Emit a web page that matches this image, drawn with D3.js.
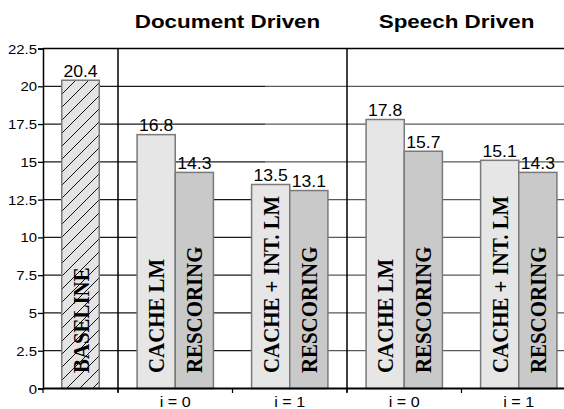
<!DOCTYPE html>
<html><head><meta charset="utf-8">
<script src="https://cdn.jsdelivr.net/npm/d3@7"></script>
<style>body{margin:0;background:#fff}svg{display:block}</style>
</head><body><svg id="chart" width="564" height="409"></svg>
<script>
// ---- data ----
const groupTitles = ["Document Driven", "Speech Driven"];
const categoryIds = ["doc0", "doc1", "sp0", "sp1"];
const categoryLabels = ["i = 0", "i = 1", "i = 0", "i = 1"];
const categoryGroup = [0, 0, 1, 1];
const baselineName = "BASELINE";
const baselineValue = 20.4;
const cacheValues = [16.8, 13.5, 17.8, 15.1];
const rescoringValues = [14.3, 13.1, 15.7, 14.3];
const cacheLabels = ["CACHE LM", "CACHE + INT. LM", "CACHE LM", "CACHE + INT. LM"];
const rescoringLabel = "RESCORING";
const yTicks = [0, 2.5, 5, 7.5, 10, 12.5, 15, 17.5, 20, 22.5];
const yTickLabels = ["0", "2.5", "5", "7.5", "10", "12.5", "15", "17.5", "20", "22.5"];

// ---- layout ----
const svg = d3.select("#chart");
const X0 = 43, XSEP = 118, XEND = 576, YB = 388.5, YT = 48.5;
const y = d3.scaleLinear().domain([0, 22.5]).range([YB, YT]);
const xBase = d3.scaleBand().domain([baselineName]).range([X0, XSEP]).paddingInner(0).paddingOuter(0.5);
const xCat = d3.scaleBand().domain(categoryIds).range([XSEP, XEND]).paddingInner(0).paddingOuter(0);
const xSub = d3.scaleBand().domain(["cache", "rescoring"]).range([0, xCat.bandwidth()]).paddingInner(0).paddingOuter(0.5);

const defs = svg.append("defs");
const pat = defs.append("pattern").attr("id", "hatch").attr("patternUnits", "userSpaceOnUse")
  .attr("width", 13).attr("height", 13);
pat.append("rect").attr("width", 13).attr("height", 13).attr("fill", "#e4e4e4");
pat.append("path").attr("d", "M0,13 L13,0 M-3,3 L3,-3 M10,16 L16,10")
  .attr("stroke", "#111").attr("stroke-width", 1);

// gridlines (dark on the left part, grey further right)
const gridVals = yTicks.filter(v => v > 0 && v < 22.5);
const gridSplit = 265;
svg.append("g").selectAll("line").data(gridVals).join("line")
  .attr("x1", X0).attr("x2", gridSplit).attr("y1", d => y(d)).attr("y2", d => y(d))
  .attr("stroke", "#1a1a1a").attr("stroke-width", 1.3);
svg.append("g").selectAll("line").data(gridVals).join("line")
  .attr("x1", gridSplit).attr("x2", 564).attr("y1", d => y(d)).attr("y2", d => y(d))
  .attr("stroke", "#5a5a5a").attr("stroke-width", 1.3);
// top border
svg.append("line").attr("x1", X0).attr("x2", 564).attr("y1", y(22.5)).attr("y2", y(22.5))
  .attr("stroke", "#000").attr("stroke-width", 1.6);

// vertical separators
[XSEP, xCat("doc1") + xCat.bandwidth()].forEach(xx => {
  svg.append("line").attr("x1", xx).attr("x2", xx).attr("y1", y(22.5)).attr("y2", YB + 4)
    .attr("stroke", "#000").attr("stroke-width", 1.5);
});

// y axis
const yAxis = d3.axisLeft(y).tickValues(yTicks).tickFormat((d, i) => yTickLabels[i])
  .tickSize(5).tickPadding(2);
const gy = svg.append("g").attr("transform", `translate(${X0},0)`).call(yAxis);
gy.select(".domain").attr("stroke", "#000").attr("stroke-width", 1.5);
gy.selectAll(".tick line").attr("stroke", "#000").attr("stroke-width", 1.3);
gy.selectAll(".tick text").each(function () {
  const t = d3.select(this);
  t.attr("font-family", "Liberation Sans, Arial, sans-serif").attr("font-size", 13)
   .attr("fill", "#000").attr("text-anchor", "end").attr("dy", null)
   .attr("x", null).attr("y", null)
   .attr("transform", "translate(-6,4.6) scale(1.15,1)");
});

// bars
const bars = svg.append("g");
bars.append("rect").attr("x", xBase(baselineName)).attr("width", xBase.bandwidth())
  .attr("y", y(baselineValue)).attr("height", y(0) - y(baselineValue))
  .attr("fill", "url(#hatch)").attr("stroke", "#7a7a7a").attr("stroke-width", 1.5);

const catData = categoryIds.map((id, i) => ({ id, i, cache: cacheValues[i], resc: rescoringValues[i] }));
const sub = [];
catData.forEach(d => {
  sub.push({ x: xCat(d.id) + xSub("cache"), v: d.cache, fill: "#e6e6e6", label: cacheLabels[d.i] });
  sub.push({ x: xCat(d.id) + xSub("rescoring"), v: d.resc, fill: "#c9c9c9", label: rescoringLabel });
});
bars.selectAll(".b").data(sub).join("rect").attr("class", "b")
  .attr("x", d => d.x).attr("width", xSub.bandwidth())
  .attr("y", d => y(d.v)).attr("height", d => y(0) - y(d.v))
  .attr("fill", d => d.fill).attr("stroke", "#7a7a7a").attr("stroke-width", 1.5);

// x axis line + ticks
svg.append("line").attr("x1", X0).attr("x2", 564).attr("y1", YB).attr("y2", YB)
  .attr("stroke", "#000").attr("stroke-width", 2.2);
const tickXs = [X0, XSEP].concat(categoryIds.map(id => xCat(id) + xCat.bandwidth()));
svg.append("g").selectAll("line").data(tickXs).join("line")
  .attr("x1", d => d).attr("x2", d => d).attr("y1", YB).attr("y2", YB + 4.5)
  .attr("stroke", "#000").attr("stroke-width", 1.2);

// value labels
const allVals = [{ cx: xBase(baselineName) + xBase.bandwidth() / 2, v: baselineValue }]
  .concat(sub.map(d => ({ cx: d.x + xSub.bandwidth() / 2, v: d.v })));
svg.append("g").selectAll("text").data(allVals).join("text")
  .attr("transform", d => `translate(${d.cx},${y(d.v) - 3.5}) scale(1.1,1)`)
  .attr("text-anchor", "middle").attr("font-family", "Liberation Sans, Arial, sans-serif")
  .attr("font-size", 16).attr("fill", "#000").text(d => d.v.toFixed(1));

// vertical labels inside bars
const vlabels = [{ cx: xBase(baselineName) + xBase.bandwidth() / 2, t: baselineName }]
  .concat(sub.map(d => ({ cx: d.x + xSub.bandwidth() / 2, t: d.label })));
svg.append("g").selectAll("text").data(vlabels).join("text")
  .attr("transform", d => `translate(${d.cx + 8},373) rotate(-90) scale(0.87,1)`)
  .attr("x", 0).attr("y", 0)
  .attr("font-family", "Liberation Serif, Times New Roman, serif").attr("font-weight", "bold")
  .attr("font-size", 24).attr("fill", "#000").text(d => d.t);

// category labels
svg.append("g").selectAll("text").data(categoryIds).join("text")
  .attr("transform", (d, i) => `translate(${xCat(d) + xCat.bandwidth() / 2},407) scale(1.15,1)`)
  .attr("text-anchor", "middle").attr("font-family", "Liberation Sans, Arial, sans-serif")
  .attr("font-size", 14).attr("fill", "#000").text((d, i) => categoryLabels[i]);

// group titles
groupTitles.forEach((t, g) => {
  const ids = categoryIds.filter((_, i) => categoryGroup[i] === g);
  const x1 = xCat(ids[0]), x2 = xCat(ids[ids.length - 1]) + xCat.bandwidth();
  svg.append("text").attr("transform", `translate(${(x1 + x2) / 2 - 5},27.5) scale(1.18,1)`)
    .attr("text-anchor", "middle").attr("font-family", "Liberation Sans, Arial, sans-serif")
    .attr("font-weight", "bold").attr("font-size", 19).attr("fill", "#000").text(t);
});
</script></body></html>
